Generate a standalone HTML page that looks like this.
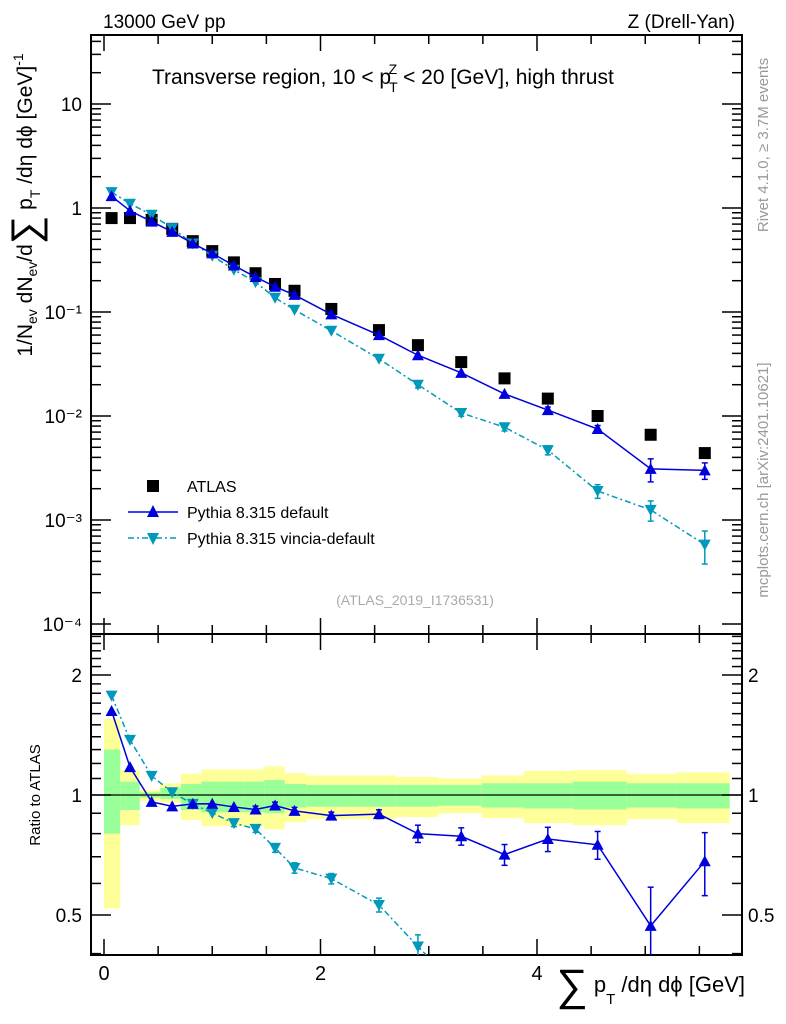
<!DOCTYPE html>
<html><head><meta charset="utf-8"><style>
html,body{margin:0;padding:0;background:#fff;overflow:hidden;width:786px;height:1024px}
svg{display:block}
svg text{font-family:"Liberation Sans",sans-serif}
</style></head><body>
<svg id="chart" width="786" height="1024" xmlns="http://www.w3.org/2000/svg" style="overflow:hidden">
<text x="103" y="28" font-size="19">13000 GeV pp</text>
<text x="735" y="28" font-size="19" text-anchor="end">Z (Drell-Yan)</text>
<text x="152" y="84" font-size="21">Transverse region, 10 &lt; p<tspan font-size="14" dy="8" dx="-2">T</tspan><tspan font-size="14" dy="-18" dx="-9">Z</tspan><tspan dy="10"> &lt; 20 [GeV], high thrust</tspan></text>
<text transform="translate(768,145) rotate(-90)" font-size="15" fill="#999" text-anchor="middle" x="0" y="0">Rivet 4.1.0, ≥ 3.7M events</text>
<text transform="translate(768,480) rotate(-90)" font-size="15" fill="#999" text-anchor="middle" x="0" y="0">mcplots.cern.ch [arXiv:2401.10621]</text>
<text x="415" y="605" font-size="14" fill="#aaa" text-anchor="middle">(ATLAS_2019_I1736531)</text>
<text transform="translate(32,205) rotate(-90)" font-size="21" text-anchor="middle">1/N<tspan font-size="14" dy="5">ev</tspan><tspan dy="-5"> dN</tspan><tspan font-size="14" dy="5">ev</tspan><tspan dy="-5">/d</tspan><tspan font-size="40" dy="7">∑</tspan><tspan dy="-7"> p</tspan><tspan font-size="14" dy="8">T</tspan><tspan dy="-8"> /dη dϕ  [GeV]</tspan><tspan font-size="14" dy="-9">-1</tspan></text>
<text transform="translate(40,795) rotate(-90)" font-size="15" text-anchor="middle">Ratio to ATLAS</text>
<text x="745" y="992" font-size="22" text-anchor="end"><tspan font-size="44" dy="8">∑</tspan><tspan dy="-8"> p</tspan><tspan font-size="15" dy="12">T</tspan><tspan dy="-12"> /dη dϕ [GeV]</tspan></text>
<g id="legend">
<rect x="147" y="480" width="12" height="12" fill="#000"/>
<text x="187" y="492" font-size="16">ATLAS</text>
<line x1="128" y1="512" x2="178" y2="512" stroke="#0000dd" stroke-width="1.5"/>
<polygon points="153,505 147,517 159,517" fill="#0000dd"/>
<text x="187" y="518" font-size="16">Pythia 8.315 default</text>
<line x1="128" y1="538" x2="178" y2="538" stroke="#0099bb" stroke-width="1.5" stroke-dasharray="6,3,2,3"/>
<polygon points="153,545 147,533 159,533" fill="#0099bb"/>
<text x="187" y="544" font-size="16">Pythia 8.315 vincia-default</text>
</g>
</svg>
<script>
const edges=[0,0.15,0.33,0.52,0.71,0.9,1.1,1.29,1.48,1.67,1.87,2.3,2.7,3.09,3.49,3.88,4.33,4.83,5.29,5.78];
const xs=[0.07,0.24,0.44,0.63,0.82,1.0,1.2,1.4,1.58,1.76,2.1,2.54,2.9,3.3,3.7,4.1,4.56,5.05,5.55];
const atlas=[0.80,0.80,0.77,0.63,0.48,0.385,0.30,0.236,0.186,0.16,0.107,0.067,0.048,0.033,0.023,0.0147,0.010,0.0066,0.0044];
const pyDef=[1.30,0.94,0.74,0.59,0.456,0.366,0.28,0.217,0.175,0.146,0.095,0.060,0.0384,0.026,0.0163,0.0114,0.0075,0.0031,0.0030];
const pyDefErr=[0.01,0.01,0.01,0.01,0.01,0.015,0.015,0.02,0.02,0.02,0.02,0.025,0.05,0.05,0.06,0.07,0.08,0.25,0.18];
const pyVin=[1.42,1.10,0.86,0.64,0.456,0.347,0.255,0.194,0.137,0.105,0.066,0.0355,0.020,0.0107,0.0078,0.0047,0.0019,0.00125,0.00058];
const pyVinErr=[0.01,0.01,0.01,0.01,0.015,0.015,0.02,0.02,0.025,0.03,0.03,0.04,0.07,0.07,0.08,0.1,0.15,0.22,0.35];
const yUp=[1.55,1.155,1.03,1.07,1.13,1.16,1.16,1.16,1.18,1.135,1.12,1.12,1.11,1.10,1.12,1.15,1.155,1.13,1.14];
const yDn=[0.52,0.84,0.966,0.955,0.865,0.835,0.835,0.835,0.82,0.855,0.87,0.87,0.88,0.90,0.875,0.85,0.84,0.87,0.85];
const gUp=[1.3,1.08,1.015,1.04,1.065,1.08,1.08,1.08,1.09,1.065,1.06,1.06,1.06,1.06,1.07,1.07,1.08,1.07,1.07];
const gDn=[0.8,0.917,0.985,0.977,0.917,0.905,0.905,0.905,0.9,0.93,0.935,0.935,0.935,0.94,0.93,0.925,0.92,0.93,0.925];
const mainTicks=["10","1","10⁻¹","10⁻²","10⁻³","10⁻⁴"];
const ratioTicks=[0.5,1,2];
const xTicks=[0,2,4];

const NS="http://www.w3.org/2000/svg";
const svg=document.getElementById('chart');
const L=91,R=742,T=35,MB=634,RB=955;
const X=v=>104+v*108.25;
const Y=v=>208-104*Math.log10(v);
const RY=v=>795-398.6*Math.log10(v);
function mk(tag,a,parent){const e=document.createElementNS(NS,tag);for(const k in a)e.setAttribute(k,a[k]);(parent||svg).appendChild(e);return e;}
const clipD=mk('defs',{});
const c1=mk('clipPath',{id:'cm'},clipD);mk('rect',{x:L,y:T,width:R-L,height:MB-T},c1);
const c2=mk('clipPath',{id:'cr'},clipD);mk('rect',{x:L,y:MB,width:R-L,height:RB-MB},c2);

const gb=mk('g',{'clip-path':'url(#cr)'});


const cl=(y,a,b)=>Math.max(a,Math.min(b,y));
for(let i=0;i<xs.length;i++){
  const x0=X(edges[i]),x1=X(edges[i+1]);
  const t1=cl(RY(yUp[i]),MB,RB),b1=cl(RY(yDn[i]),MB,RB);
  const r1=mk('rect',{x:x0,y:t1,width:x1-x0,height:b1-t1,fill:'#ffff99'},gb);
  
  
  const t2=cl(RY(gUp[i]),MB,RB),b2=cl(RY(gDn[i]),MB,RB);
  const r2=mk('rect',{x:x0,y:t2,width:x1-x0,height:b2-t2,fill:'#99ff99'},gb);
  
  
}
const one=mk('line',{x1:L,x2:R,y1:RY(1),y2:RY(1),stroke:'#000','stroke-width':1.2});



for(const [y0,y1,nm] of [[T,MB,'main-frame'],[MB,RB,'ratio-frame']]){
  const f=mk('rect',{x:L,y:y0,width:R-L,height:y1-y0,fill:'none',stroke:'#000','stroke-width':2});
  
  
}
const tg=mk('g',{stroke:'#000','stroke-width':1.5});


for(let v=0;v<=5.8;v+=0.5){
  const maj=Math.abs(v%2)<1e-6,len=maj?16:9,x=X(v);
  for(const [yb,ya] of [[MB,-1],[T,1],[RB,-1],[MB,1]]) mk('line',{x1:x,x2:x,y1:yb,y2:yb+ya*len},tg);
}
xTicks.forEach(v=>{const t=mk('text',{x:X(v),y:980,'font-size':20,'text-anchor':'middle'});t.textContent=v;
});
for(let d=-4;d<=1;d++){for(let m=1;m<=9;m++){const v=m*Math.pow(10,d);const y=Y(v);if(y<T||y>MB)continue;const len=m==1?20:10;
 mk('line',{x1:L,x2:L+len,y1:y,y2:y},tg);mk('line',{x1:R,x2:R-len,y1:y,y2:y},tg);}}
mainTicks.forEach((s,i)=>{const t=mk('text',{x:82,y:Y(Math.pow(10,1-i))+7,'font-size':19,'text-anchor':'end'});t.textContent=s;
});
for(let v=0.4;v<=2.55;v+=0.1){const y=RY(v);if(y<MB||y>RB)continue;const maj=ratioTicks.some(r=>Math.abs(r-v)<1e-6);const len=maj?20:10;
 mk('line',{x1:L,x2:L+len,y1:y,y2:y},tg);mk('line',{x1:R,x2:R-len,y1:y,y2:y},tg);}
ratioTicks.forEach(v=>{for(const [x,a] of [[82,'end'],[748,'start']]){const t=mk('text',{x:x,y:RY(v)+7,'font-size':19,'text-anchor':a});t.textContent=v;
}});

function series(vals,errs,color,dash,down,nm){
  for(const [yf,clip,ratio,y0,y1] of [[Y,'cm',false,T,MB],[RY,'cr',true,MB,RB]]){
    const g=mk('g',{'clip-path':'url(#'+clip+')'});
    
    
    const pts=vals.map((v,i)=>[X(xs[i]),yf(ratio?v/atlas[i]:v)]);
    // truncate line at panel boundary
    const lp=[];
    for(let i=0;i<pts.length;i++){
      const p=pts[i];
      if(p[1]>=y0&&p[1]<=y1){lp.push(p);continue;}
      if(i>0){const q=pts[i-1];if(q[1]>=y0&&q[1]<=y1){const yb=p[1]>y1?y1:y0;const t=(yb-q[1])/(p[1]-q[1]);lp.push([q[0]+t*(p[0]-q[0]),yb]);}}
      break;
    }
    if(lp.length>1) mk('polyline',{points:lp.map(p=>p.join(',')).join(' '),fill:'none',stroke:color,'stroke-width':1.5,'stroke-dasharray':dash},g);
    vals.forEach((v,i)=>{const c=ratio?v/atlas[i]:v,e=errs[i];const x=pts[i][0],y=pts[i][1];
      const yt=cl(yf(c*(1+e)),y0,y1),yb=cl(yf(Math.max(c*(1-e),1e-6)),y0,y1);
      if(yb-yt>6){mk('line',{x1:x,x2:x,y1:yt,y2:yb,stroke:color,'stroke-width':1.5},g);
        if(yt>y0)mk('line',{x1:x-3,x2:x+3,y1:yt,y2:yt,stroke:color,'stroke-width':1.5},g);
        if(yb<y1)mk('line',{x1:x-3,x2:x+3,y1:yb,y2:yb,stroke:color,'stroke-width':1.5},g);}
      if(y<y0-6||y>y1+6)return;
      const p=down?`${x},${y+6} ${x-6},${y-5} ${x+6},${y-5}`:`${x},${y-6} ${x-6},${y+5} ${x+6},${y+5}`;
      const m=mk('polygon',{points:p,fill:color},g);
      
      
    });
  }
}
const ga=mk('g',{'clip-path':'url(#cm)'});


atlas.forEach((v,i)=>{const r=mk('rect',{x:X(xs[i])-6,y:Y(v)-6,width:12,height:12,fill:'#000'},ga);
});
series(pyVin,pyVinErr,'#0099bb','6,3,2,3',true,'vincia');
series(pyDef,pyDefErr,'#0000dd','none',false,'default');
</script>
</body></html>
